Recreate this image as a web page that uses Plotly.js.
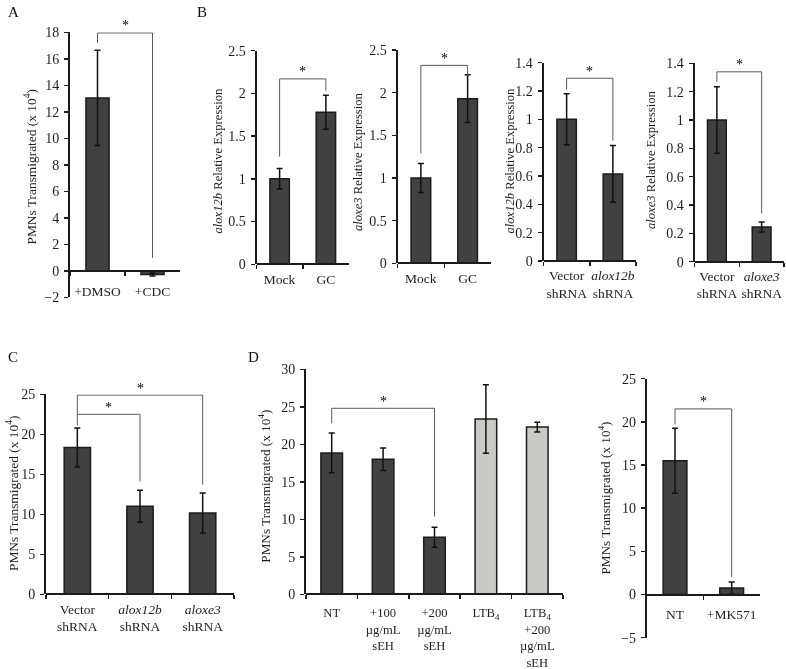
<!DOCTYPE html>
<html><head><meta charset="utf-8">
<script src="https://cdn.plot.ly/plotly-3.0.1.min.js"></script>
<style>html,body{margin:0;padding:0;background:#fff}#chart{width:786px;height:669px;will-change:transform}</style>
</head><body><div id="chart"></div>
<script>
// ---------------- DATA ----------------
const catsA = ['+DMSO', '+CDC'];
const valsA = [13.05, -0.28];
const errsA = [3.6, 0.12];
const bracketA = [17.2, 17.95, 0.98];

const catsB1 = ['Mock', 'GC'];
const valsB1 = [1.0, 1.78];
const errsB1 = [0.12, 0.2];
const bracketB1 = [1.26, 2.17, 2.03];

const catsB2 = ['Mock', 'GC'];
const valsB2 = [1.0, 1.93];
const errsB2 = [0.17, 0.28];
const bracketB2 = [1.29, 2.32, 2.2];

const catsB3 = ['Vector<br>shRNA', '<i>alox12b</i><br>shRNA'];
const valsB3 = [1.0, 0.615];
const errsB3 = [0.18, 0.2];
const bracketB3 = [1.21, 1.29, 0.85];

const catsB4 = ['Vector<br>shRNA', '<i>aloxe3</i><br>shRNA'];
const valsB4 = [1.0, 0.245];
const errsB4 = [0.235, 0.035];
const bracketB4 = [1.27, 1.34, 0.34];

const catsC = ['Vector<br>shRNA', '<i>alox12b</i><br>shRNA', '<i>aloxe3</i><br>shRNA'];
const valsC = [18.35, 11.0, 10.16];
const errsC = [2.45, 2.0, 2.5];
const bracketC1 = [21.1, 22.5, 14.1];
const bracketC2 = [22.5, 24.9, 13.7];

const catsD = ['NT', '+100<br>µg/mL<br>sEH', '+200<br>µg/mL<br>sEH', 'LTB<sub>4</sub>', 'LTB<sub>4</sub><br>+200<br>µg/mL<br>sEH'];
const valsD = [18.85, 18.0, 7.6, 23.37, 22.3];
const errsD = [2.65, 1.5, 1.33, 4.57, 0.65];
const bracketD = [22.8, 24.8, 10.35];

const catsD2 = ['NT', '+MK571'];
const valsD2 = [15.5, 0.75];
const errsD2 = [3.77, 0.7];
const bracketD2 = [19.7, 21.5, 2.04];

// ---------------- STYLE / LAYOUT ----------------
const W = 786, H = 669;
const serif = '"Liberation Serif", "Times New Roman", serif';
const dark = '#414141', light = '#c9cac6', edge = '#1c1c1c', ink = '#1e1e1e';
const pmnTitle = 'PMNs Transmigrated (x 10<sup>4</sup>)';

const panels = [
  {cats: catsA, vals: valsA, errs: errsA, brackets: [[0, 1, bracketA]], xpx: [70, 180], ypx: [32.3, 297.3], range: [-2, 18], dtick: 2,
   title: pmnTitle, tx: 30.5, ty: 167, tsize: 13.4, lbl: 8, xfs: 13.5},
  {cats: catsB1, vals: valsB1, errs: errsB1, brackets: [[0, 1, bracketB1]], xpx: [256.5, 349], ypx: [50.7, 264.3], range: [0, 2.5], dtick: 0.5,
   title: '<i>alox12b</i> Relative Expression', tx: 217, ty: 160.5, tsize: 12.6, lbl: 2, xfs: 13.5},
  {cats: catsB2, vals: valsB2, errs: errsB2, brackets: [[0, 1, bracketB2]], xpx: [397.5, 491], ypx: [50, 263.3], range: [0, 2.5], dtick: 0.5,
   title: '<i>aloxe3</i> Relative Expression', tx: 357.5, ty: 161.5, tsize: 12.6, lbl: 2, xfs: 13.5},
  {cats: catsB3, vals: valsB3, errs: errsB3, brackets: [[0, 1, bracketB3]], xpx: [543.5, 636], ypx: [62.7, 261], range: [0, 1.4], dtick: 0.2,
   title: '<i>alox12b</i> Relative Expression', tx: 509.5, ty: 161, tsize: 12.6, lbl: 2, xfs: 13.5},
  {cats: catsB4, vals: valsB4, errs: errsB4, brackets: [[0, 1, bracketB4]], xpx: [694.5, 784], ypx: [63.3, 261.7], range: [0, 1.4], dtick: 0.2,
   title: '<i>aloxe3</i> Relative Expression', tx: 651, ty: 160, tsize: 12.6, lbl: 2, xfs: 13.5},
  {cats: catsC, vals: valsC, errs: errsC, brackets: [[0, 1, bracketC1], [0, 2, bracketC2]], xpx: [46, 234], ypx: [394.3, 594.3], range: [0, 25], dtick: 5,
   title: pmnTitle, tx: 13, ty: 494, tsize: 13.4, lbl: 2, xfs: 13.5},
  {cats: catsD, vals: valsD, errs: errsD, brackets: [[0, 2, bracketD]], xpx: [306, 563], ypx: [369.3, 594.3], range: [0, 30], dtick: 5,
   title: pmnTitle, tx: 265, ty: 486.7, tsize: 13.2, lbl: 7, xfs: 12.6, colors: [dark, dark, dark, light, light]},
  {cats: catsD2, vals: valsD2, errs: errsD2, brackets: [[0, 1, bracketD2]], xpx: [646.7, 760], ypx: [378.7, 637.7], range: [-5, 25], dtick: 5,
   title: pmnTitle, tx: 605, ty: 498.5, tsize: 13.2, lbl: 7, xfs: 13.5}
];

const data = [];
const annotations = [];
const layout = {
  width: W, height: H,
  margin: {l: 0, r: 0, t: 0, b: 0},
  paper_bgcolor: '#ffffff', plot_bgcolor: 'rgba(0,0,0,0)',
  showlegend: false, bargap: 0.58,
  font: {family: serif, size: 13, color: ink},
  annotations: annotations
};

panels.forEach((p, i) => {
  const n = i === 0 ? '' : String(i + 1);
  const xr = 'x' + n, yr = 'y' + n;
  const [yTop, yBot] = p.ypx;
  const [r0, r1] = p.range;
  const zeroPx = yBot - (0 - r0) / (r1 - r0) * (yBot - yTop);

  layout['xaxis' + n] = {
    domain: [p.xpx[0] / W, p.xpx[1] / W], anchor: 'free', position: 1 - zeroPx / H,
    type: 'category', range: [-0.5, p.cats.length - 0.5],
    showline: true, linecolor: edge, linewidth: 2,
    ticks: 'outside', tickson: 'boundaries', ticklen: 4, tickwidth: 1.5, tickcolor: edge,
    showgrid: false, zeroline: false, tickangle: 0,
    tickfont: {family: serif, size: p.xfs, color: ink}, ticklabelstandoff: p.lbl,
    automargin: false, fixedrange: true
  };
  layout['yaxis' + n] = {
    domain: [1 - yBot / H, 1 - yTop / H], anchor: xr, range: p.range,
    tick0: 0, dtick: p.dtick,
    showline: true, linecolor: edge, linewidth: 2,
    ticks: 'outside', ticklen: 4, tickwidth: 1.5, tickcolor: edge,
    showgrid: false, zeroline: false,
    tickfont: {family: serif, size: 14, color: ink}, ticklabelstandoff: 2,
    automargin: false, fixedrange: true
  };

  // y-axis title
  annotations.push({
    xref: 'paper', yref: 'paper', x: p.tx / W, y: 1 - p.ty / H, xanchor: 'center', yanchor: 'middle',
    textangle: -90, text: p.title, showarrow: false, font: {family: serif, size: p.tsize, color: ink}
  });

  data.push({
    type: 'bar', x: p.cats, y: p.vals, xaxis: xr, yaxis: yr,
    marker: {color: p.colors || dark, line: {color: edge, width: 1.5}},
    error_y: {type: 'data', array: p.errs, visible: true, color: '#111', thickness: 1.5, width: 3},
    hoverinfo: 'skip'
  });

  p.brackets.forEach(([a, b, v]) => {
    data.push({
      type: 'scatter', mode: 'lines', xaxis: xr, yaxis: yr,
      x: [p.cats[a], p.cats[a], p.cats[b], p.cats[b]],
      y: [v[0], v[1], v[1], v[2]],
      line: {color: '#5a5a5a', width: 1}, hoverinfo: 'skip'
    });
    annotations.push({
      xref: xr, yref: yr, x: (a + b) / 2, y: v[1], text: '*', showarrow: false,
      yanchor: 'middle', yshift: 7, font: {family: serif, size: 14, color: '#000000'}
    });
  });
});

const letters = [['A', 6, 2], ['B', 195, 2], ['C', 6, 347], ['D', 246, 347]];
letters.forEach(([t, px, py]) => annotations.push({
  xref: 'paper', yref: 'paper', x: px / W, y: 1 - py / H, xanchor: 'left', yanchor: 'top',
  text: t, showarrow: false, font: {family: serif, size: 15, color: '#111'}
}));

Plotly.newPlot('chart', data, layout, {staticPlot: true, displayModeBar: false});
</script>
</body></html>
